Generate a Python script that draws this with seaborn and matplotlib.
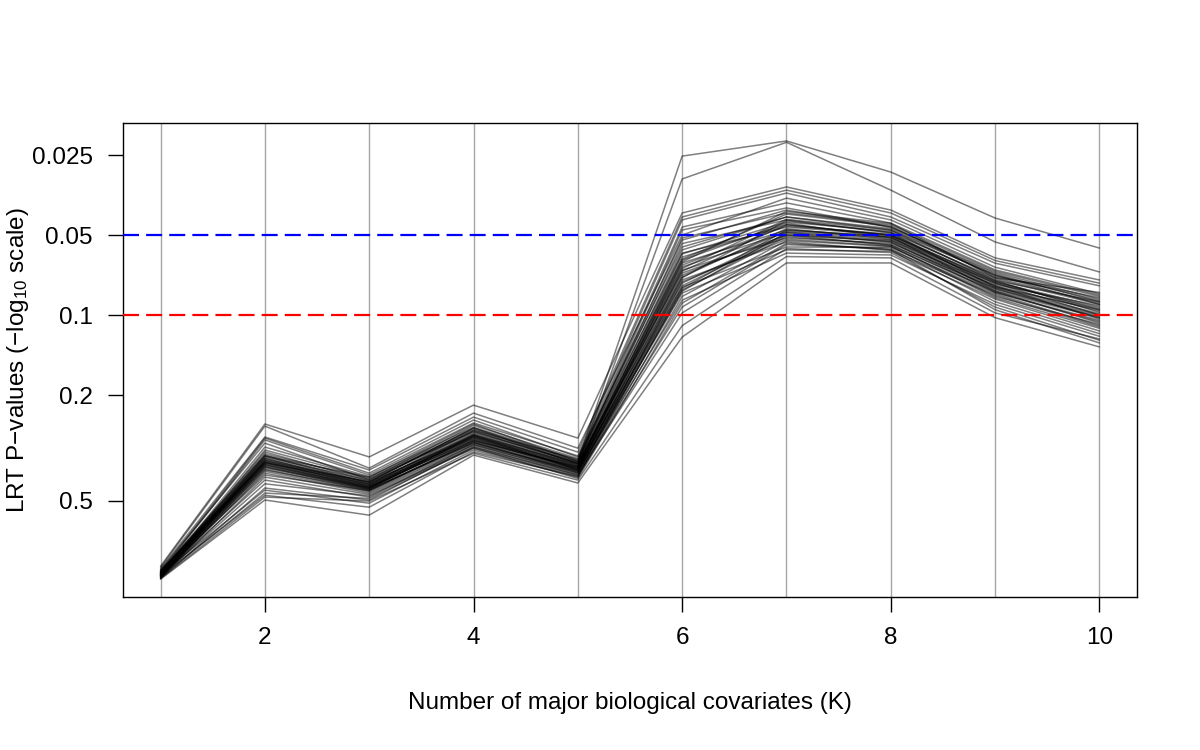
import numpy as np
import pandas as pd
import matplotlib
matplotlib.use("Agg")
import matplotlib.pyplot as plt
import seaborn as sns

# K values on the x axis
k_values = [1, 2, 3, 4, 5, 6, 7, 8, 9, 10]

# -log10(LRT p-value) for each of the 45 curves, one array per K
k1 = [0.030, 0.040, 0.055, 0.050, 0.045, 0.035, 0.030, 0.042, 0.025, 0.020,
      0.032, 0.028, 0.038, 0.022, 0.018, 0.026, 0.034, 0.015, 0.024, 0.030,
      0.012, 0.027, 0.021, 0.036, 0.019, 0.033, 0.016, 0.029, 0.023, 0.010,
      0.031, 0.017, 0.025, 0.014, 0.020, 0.027, 0.011, 0.022, 0.018, 0.008,
      0.024, 0.013, 0.019, 0.009, 0.006]
k2 = [0.470, 0.445, 0.590, 0.582, 0.541, 0.537, 0.530, 0.518, 0.503, 0.492,
      0.485, 0.478, 0.473, 0.470, 0.466, 0.462, 0.460, 0.457, 0.454, 0.452,
      0.450, 0.447, 0.445, 0.443, 0.440, 0.438, 0.436, 0.433, 0.430, 0.428,
      0.425, 0.420, 0.417, 0.412, 0.405, 0.398, 0.390, 0.379, 0.365, 0.349,
      0.341, 0.330, 0.322, 0.315, 0.304]
k3 = [0.390, 0.372, 0.466, 0.424, 0.417, 0.405, 0.398, 0.380, 0.392, 0.387,
      0.375, 0.383, 0.370, 0.365, 0.378, 0.360, 0.368, 0.362, 0.356, 0.372,
      0.353, 0.358, 0.349, 0.364, 0.352, 0.345, 0.355, 0.348, 0.341, 0.350,
      0.346, 0.338, 0.343, 0.335, 0.330, 0.340, 0.325, 0.315, 0.320, 0.304,
      0.292, 0.310, 0.277, 0.300, 0.247]
k4 = [0.590, 0.575, 0.661, 0.631, 0.616, 0.605, 0.594, 0.585, 0.578, 0.570,
      0.567, 0.562, 0.575, 0.556, 0.560, 0.552, 0.548, 0.565, 0.545, 0.541,
      0.550, 0.538, 0.544, 0.535, 0.530, 0.547, 0.527, 0.540, 0.524, 0.533,
      0.518, 0.528, 0.522, 0.515, 0.510, 0.520, 0.503, 0.512, 0.498, 0.505,
      0.492, 0.500, 0.485, 0.480, 0.473]
k5 = [0.450, 0.440, 0.537, 0.499, 0.484, 0.466, 0.470, 0.460, 0.454, 0.448,
      0.457, 0.443, 0.450, 0.440, 0.445, 0.436, 0.438, 0.443, 0.432, 0.428,
      0.434, 0.425, 0.430, 0.422, 0.426, 0.418, 0.428, 0.420, 0.415, 0.417,
      0.412, 0.420, 0.408, 0.410, 0.405, 0.414, 0.400, 0.405, 0.395, 0.398,
      0.390, 0.385, 0.392, 0.379, 0.368]
k6 = [1.598, 1.512, 1.384, 1.301, 1.369, 1.256, 1.358, 1.331, 1.233, 1.320,
      1.282, 1.207, 1.290, 1.181, 1.269, 1.218, 1.245, 1.158, 1.196, 1.230,
      1.169, 1.143, 1.210, 1.132, 1.188, 1.120, 1.105, 1.175, 1.094, 1.150,
      1.083, 1.200, 1.125, 1.056, 1.110, 1.165, 1.030, 1.090, 1.140, 1.008,
      1.070, 1.045, 1.100, 0.960, 0.917]
k7 = [1.655, 1.650, 1.482, 1.440, 1.470, 1.369, 1.459, 1.422, 1.331, 1.403,
      1.395, 1.346, 1.384, 1.312, 1.358, 1.340, 1.369, 1.301, 1.320, 1.350,
      1.290, 1.325, 1.380, 1.275, 1.335, 1.305, 1.256, 1.360, 1.295, 1.315,
      1.245, 1.390, 1.285, 1.233, 1.300, 1.340, 1.265, 1.310, 1.355, 1.250,
      1.280, 1.270, 1.320, 1.220, 1.196]
k8 = [1.538, 1.470, 1.395, 1.358, 1.384, 1.320, 1.369, 1.346, 1.301, 1.331,
      1.330, 1.290, 1.340, 1.282, 1.310, 1.300, 1.325, 1.263, 1.295, 1.315,
      1.270, 1.285, 1.335, 1.245, 1.305, 1.275, 1.255, 1.320, 1.265, 1.290,
      1.240, 1.345, 1.260, 1.226, 1.280, 1.300, 1.250, 1.275, 1.310, 1.235,
      1.258, 1.245, 1.295, 1.215, 1.196]
k9 = [1.365, 1.275, 1.215, 1.180, 1.205, 1.150, 1.195, 1.170, 1.130, 1.160,
      1.155, 1.120, 1.165, 1.110, 1.140, 1.125, 1.150, 1.090, 1.120, 1.135,
      1.100, 1.105, 1.145, 1.075, 1.125, 1.095, 1.080, 1.130, 1.085, 1.110,
      1.060, 1.140, 1.070, 1.040, 1.100, 1.115, 1.050, 1.085, 1.105, 1.030,
      1.065, 1.020, 1.090, 1.008, 0.990]
k10 = [1.252, 1.162, 1.132, 1.080, 1.120, 1.040, 1.110, 1.075, 1.010, 1.060,
       1.050, 1.000, 1.070, 0.985, 1.045, 1.020, 1.055, 0.970, 1.025, 1.040,
       0.990, 1.005, 1.065, 0.955, 1.030, 0.995, 0.960, 1.050, 0.975, 1.015,
       0.940, 1.085, 0.965, 0.920, 1.000, 1.035, 0.930, 0.980, 1.020, 0.905,
       0.950, 0.895, 0.990, 0.910, 0.880]

# p-value ticks on the y axis and the two reference thresholds
p_ticks = [0.025, 0.05, 0.1, 0.2, 0.5]
p_tick_labels = ["0.025", "0.05", "0.1", "0.2", "0.5"]
p_thresholds = [0.05, 0.1]
threshold_colors = ["blue", "red"]

columns = [k1, k2, k3, k4, k5, k6, k7, k8, k9, k10]
rows = []
for k, col in zip(k_values, columns):
    for i, v in enumerate(col):
        rows.append({"line": i, "K": k, "nlp": v})
df = pd.DataFrame(rows)

sns.set_theme(style="white")
plt.rcParams["font.family"] = ["Liberation Sans", "DejaVu Sans"]
plt.rcParams["mathtext.fontset"] = "custom"
plt.rcParams["mathtext.rm"] = "Liberation Sans"
plt.rcParams["mathtext.default"] = "regular"

fig = plt.figure(figsize=(12, 7.5), dpi=100)
ax = fig.add_axes([0.1025, 0.204, 0.845, 0.632])

for k in k_values:
    ax.axvline(k, color="#a6a6a6", lw=1.0, zorder=0)

sns.lineplot(data=df, x="K", y="nlp", units="line", estimator=None,
             color="black", alpha=0.5, lw=1.1, legend=False, ax=ax)

for p, c in zip(p_thresholds, threshold_colors):
    ax.axhline(-np.log10(p), color=c, lw=1.6, ls=(0, (7.2, 3.2)), zorder=5)

ax.set_xlim(0.64, 10.36)
ax.set_ylim(-0.061, 1.7226)
ax.set_xticks([2, 4, 6, 8, 10])
ax.set_yticks(-np.log10(p_ticks))
ax.set_yticklabels(p_tick_labels)
ax.tick_params(axis="both", direction="out", length=10.8, width=1.0,
               color="black", labelsize=17.5, labelcolor="black")
ax.tick_params(axis="x", pad=11)
ax.tick_params(axis="y", pad=11)
ax.tick_params(left=True, bottom=True)

for s in ax.spines.values():
    s.set_color("black")
    s.set_linewidth(1.0)

ax.set_xlabel("Number of major biological covariates (K)", fontsize=17.5, color="black")
ax.set_ylabel("LRT P\u2212values (\u2212log$_{10}$ scale)", fontsize=17.5, color="black")
ax.xaxis.set_label_coords(0.5, -0.224)
ax.xaxis.label.set_va("center")
ax.yaxis.set_label_coords(-0.1036, 0.5)
ax.yaxis.label.set_va("center")

fig.savefig("out.png", dpi=100)
